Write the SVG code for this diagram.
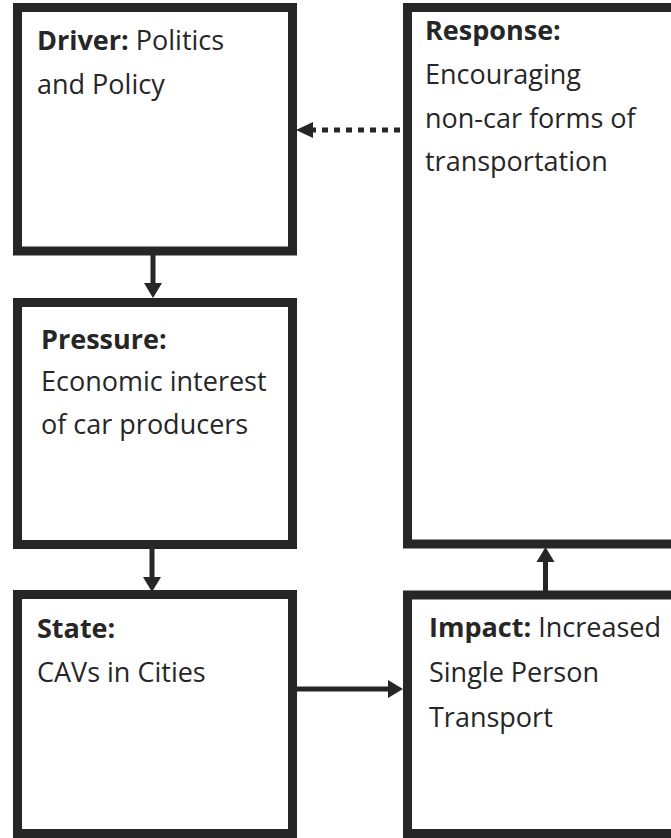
<svg xmlns="http://www.w3.org/2000/svg" width="671" height="838" viewBox="0 0 671 838">
<style>
.box{fill:#ffffff;stroke:#262626;stroke-width:9}
.t{font-family:"Open Sans","Liberation Sans",sans-serif;font-size:27px;fill:#262626}
.b{font-weight:bold}
.ln{stroke:#262626;stroke-width:5;fill:none}
.dot{stroke:#262626;stroke-width:5;fill:none;stroke-dasharray:6 6}
</style>
<defs>
<marker id="ah" markerUnits="userSpaceOnUse" markerWidth="15" markerHeight="18" refX="0" refY="9" orient="auto" overflow="visible">
<path d="M0,0 L15,9 L0,18 Z" fill="#262626"/>
</marker>
</defs>
<rect width="671" height="838" fill="#ffffff"/>
<g id="driver">
<rect class="box" x="17.5" y="7.5" width="275" height="243.5"/>
<text class="t" x="37" y="50"><tspan class="b">Driver:</tspan> Politics</text>
<text class="t" x="37" y="94">and Policy</text>
</g>
<g id="pressure">
<rect class="box" x="17.5" y="302.5" width="275" height="242"/>
<text class="t b" x="41" y="349">Pressure:</text>
<text class="t" x="41" y="391">Economic interest</text>
<text class="t" x="41" y="434">of car producers</text>
</g>
<g id="state">
<rect class="box" x="17.5" y="594.5" width="275" height="239"/>
<text class="t b" x="37" y="638">State:</text>
<text class="t" x="37" y="682">CAVs in Cities</text>
</g>
<g id="response">
<rect class="box" x="407.5" y="7.5" width="280" height="536.5"/>
<text class="t b" x="425" y="40">Response:</text>
<text class="t" x="425" y="84">Encouraging</text>
<text class="t" x="425" y="128">non-car forms of</text>
<text class="t" x="425" y="171">transportation</text>
</g>
<g id="impact">
<rect class="box" x="407.5" y="595" width="280" height="238.5"/>
<text class="t" x="429" y="637"><tspan class="b">Impact:</tspan> Increased</text>
<text class="t" x="429" y="682">Single Person</text>
<text class="t" x="429" y="727">Transport</text>
</g>
<g id="connectors">
<path class="ln" d="M153,255 V283" marker-end="url(#ah)"/>
<path class="ln" d="M152,549 V577" marker-end="url(#ah)"/>
<path class="ln" d="M545.5,591 V562" marker-end="url(#ah)"/>
<path class="ln" d="M297,689 H388" marker-end="url(#ah)"/>
<path class="dot" d="M400,130 H313"/>
<path d="M313,122 L296,130 L313,138 Z" fill="#262626"/>
</g>
</svg>
